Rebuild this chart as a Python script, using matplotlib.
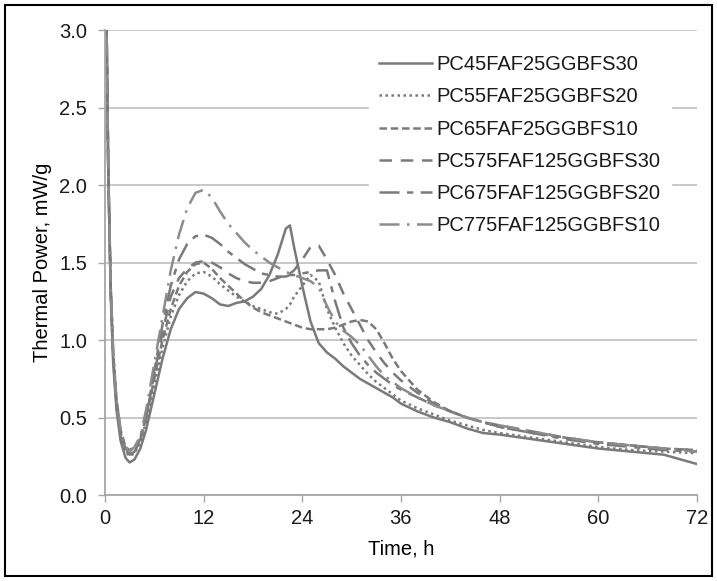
#!/usr/bin/env python3
"""Isothermal calorimetry curves: thermal power of six binder mixes over 72 h."""

import matplotlib

matplotlib.use("Agg")
import matplotlib.pyplot as plt
from matplotlib.patches import Rectangle

# time, h
time_h = [0, 0.2, 0.4, 0.7, 1.0, 1.4, 1.9, 2.5, 3.0, 3.6,
          4.3, 5, 6, 7, 8, 9, 10, 11, 12, 13,
          14, 15, 16, 17, 18, 19, 20, 21, 22, 22.5,
          23, 24, 25, 26, 27, 28, 29, 30, 31, 32,
          33, 34, 35, 36, 38, 40, 42, 44, 46, 48,
          52, 56, 60, 64, 68, 72]

# thermal power, mW/g
pc45 = [3.6, 3.0, 2.1, 1.3, 0.85, 0.55, 0.35, 0.24, 0.21, 0.23,
        0.30, 0.42, 0.65, 0.88, 1.07, 1.20, 1.27, 1.31, 1.30, 1.27,
        1.23, 1.22, 1.24, 1.25, 1.28, 1.33, 1.42, 1.55, 1.72, 1.74,
        1.60, 1.35, 1.12, 0.98, 0.92, 0.88, 0.83, 0.79, 0.75, 0.72,
        0.69, 0.66, 0.63, 0.59, 0.54, 0.50, 0.47, 0.43, 0.40, 0.39,
        0.36, 0.33, 0.30, 0.28, 0.26, 0.20]
pc55 = [3.6, 3.0, 2.1, 1.3, 0.88, 0.58, 0.38, 0.28, 0.25, 0.27,
        0.34, 0.47, 0.70, 0.95, 1.15, 1.29, 1.38, 1.43, 1.44, 1.41,
        1.36, 1.32, 1.28, 1.25, 1.22, 1.20, 1.18, 1.17, 1.20, 1.23,
        1.28, 1.35, 1.42, 1.38, 1.20, 1.08, 0.98, 0.90, 0.84, 0.78,
        0.73, 0.69, 0.65, 0.61, 0.56, 0.52, 0.48, 0.45, 0.42, 0.40,
        0.37, 0.34, 0.31, 0.29, 0.28, 0.27]
pc65 = [3.6, 3.0, 2.1, 1.35, 0.92, 0.62, 0.42, 0.31, 0.29, 0.31,
        0.37, 0.50, 0.75, 1.00, 1.20, 1.35, 1.44, 1.49, 1.50, 1.46,
        1.40, 1.35, 1.30, 1.25, 1.21, 1.18, 1.16, 1.14, 1.12, 1.11,
        1.10, 1.08, 1.07, 1.07, 1.07, 1.08, 1.10, 1.12, 1.13, 1.12,
        1.07, 0.98, 0.88, 0.80, 0.68, 0.60, 0.54, 0.50, 0.47, 0.44,
        0.40, 0.37, 0.34, 0.32, 0.30, 0.29]
pc575 = [3.6, 3.0, 2.1, 1.33, 0.9, 0.6, 0.4, 0.3, 0.27, 0.29,
         0.36, 0.50, 0.78, 1.05, 1.28, 1.40, 1.46, 1.50, 1.51, 1.50,
         1.47, 1.43, 1.40, 1.38, 1.37, 1.37, 1.38, 1.40, 1.42, 1.43,
         1.45, 1.52, 1.60, 1.61, 1.52, 1.42, 1.30, 1.20, 1.10, 1.00,
         0.92, 0.85, 0.79, 0.74, 0.66, 0.59, 0.54, 0.50, 0.47, 0.45,
         0.41, 0.37, 0.34, 0.32, 0.30, 0.29]
pc675 = [3.6, 3.0, 2.1, 1.32, 0.89, 0.59, 0.39, 0.29, 0.26, 0.28,
         0.35, 0.50, 0.80, 1.10, 1.35, 1.52, 1.62, 1.67, 1.68, 1.66,
         1.62, 1.57, 1.53, 1.49, 1.46, 1.43, 1.42, 1.41, 1.41, 1.42,
         1.42, 1.43, 1.44, 1.45, 1.45, 1.25, 1.08, 0.98, 0.90, 0.84,
         0.79, 0.75, 0.71, 0.68, 0.63, 0.58, 0.54, 0.50, 0.47, 0.44,
         0.40, 0.36, 0.33, 0.31, 0.29, 0.28]
pc775 = [3.6, 3.0, 2.1, 1.35, 0.92, 0.62, 0.42, 0.31, 0.28, 0.31,
         0.38, 0.55, 0.85, 1.15, 1.45, 1.68, 1.85, 1.95, 1.97, 1.92,
         1.83, 1.75, 1.69, 1.63, 1.58, 1.54, 1.50, 1.47, 1.44, 1.43,
         1.42, 1.40, 1.38, 1.34, 1.22, 1.12, 1.06, 1.02, 0.97, 0.90,
         0.83, 0.77, 0.73, 0.69, 0.63, 0.58, 0.54, 0.50, 0.47, 0.45,
         0.41, 0.37, 0.34, 0.32, 0.30, 0.28]

labels = ["PC45FAF25GGBFS30", "PC55FAF25GGBFS20", "PC65FAF25GGBFS10",
          "PC575FAF125GGBFS30", "PC675FAF125GGBFS20", "PC775FAF125GGBFS10"]
x_ticks = [0, 12, 24, 36, 48, 60, 72]
y_ticks = [0.0, 0.5, 1.0, 1.5, 2.0, 2.5, 3.0]

plt.rcParams.update({
    "font.family": ["Liberation Sans", "DejaVu Sans"],
    "font.size": 14.5,
    "text.color": "#1a1a1a",
    "xtick.color": "#1a1a1a",
    "ytick.color": "#1a1a1a",
})

fig = plt.figure(figsize=(7.17, 5.81), dpi=100)
ax = fig.add_axes([0.1464, 0.148, 0.8256, 0.800])

styles = [
    dict(color="#7a7a7a", linestyle="-"),
    dict(color="#7a7a7a", linestyle=(0, (1, 1.4))),
    dict(color="#7a7a7a", linestyle=(0, (3, 1.5))),
    dict(color="#7a7a7a", linestyle=(0, (5, 3.5))),
    dict(color="#7a7a7a", linestyle=(0, (8, 3, 2.5, 3))),
    dict(color="#8c8c8c", linestyle=(0, (8, 3, 1, 3))),
]
series = [pc45, pc55, pc65, pc575, pc675, pc775]

for values, label, st in zip(series, labels, styles):
    ax.plot(time_h, values, linewidth=1.8, label=label, **st)

ax.set_xlim(0, 72)
ax.set_ylim(0, 3.0)
ax.set_xticks(x_ticks)
ax.set_yticks(y_ticks, [f"{v:.1f}" for v in y_ticks])
ax.set_xlabel("Time, h", labelpad=8)
ax.set_ylabel("Thermal Power, mW/g", labelpad=5)

ax.grid(True, axis="y", color="#c4c4c4", linewidth=1.3)
ax.set_axisbelow(True)
for spine in ("top", "right"):
    ax.spines[spine].set_visible(False)
for spine in ("left", "bottom"):
    ax.spines[spine].set_color("#a6a6a6")
    ax.spines[spine].set_linewidth(1.3)
ax.tick_params(axis="both", direction="out", length=5, width=1.0, color="#a6a6a6")
ax.tick_params(axis="y", pad=8)
ax.tick_params(axis="x", pad=5)

leg = ax.legend(
    loc="upper right",
    bbox_to_anchor=(0.973, 0.99),
    frameon=True,
    facecolor="white",
    edgecolor="white",
    framealpha=1.0,
    fancybox=False,
    handlelength=2.6,
    handletextpad=0.25,
    labelspacing=0.66,
    borderpad=0.5,
    fontsize=14.5,
)

# black frame around the whole picture
fig.patches.append(Rectangle((5 / 717, 5 / 581), 707 / 717, 571 / 581,
                             transform=fig.transFigure, fill=False,
                             edgecolor="black", linewidth=1.5))

fig.savefig("out.png", dpi=100)
plt.close(fig)
